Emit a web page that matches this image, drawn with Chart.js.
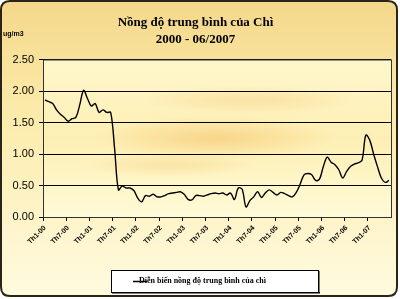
<!DOCTYPE html>
<html lang="vi">
<head>
  <meta charset="UTF-8">
  <title>Nồng độ trung bình của Chì</title>
  <script src="https://cdn.jsdelivr.net/npm/chart.js"></script>
  <style>
    html, body { margin: 0; padding: 0; background: #fff; }
    #khung { width: 400px; height: 299px; }
  </style>
</head>
<body>
  <div id="khung"><canvas id="grafico" width="400" height="299"></canvas></div>

  <script>
    // dữ liệu: trung bình tháng, 01/2000 - 06/2007 (ug/m3)
    const nam = ["00", "01", "02", "03", "04", "05", "06", "07"];
    const thang = [];
    nam.forEach(n => {
      for (let t = 1; t <= 12; t++) {
        if (n === "07" && t > 6) break;
        thang.push("Th" + t + "-" + n);
      }
    });

    const nongDoChi = [
      1.86, 1.83, 1.80, 1.70, 1.63, 1.58, 1.52, 1.56, 1.58, 1.78,
      2.01, 1.88, 1.76, 1.80, 1.66, 1.70, 1.66, 1.66, 1.10, 0.43,
      0.49, 0.46, 0.46, 0.42, 0.30, 0.24, 0.34, 0.33, 0.36, 0.32,
      0.32, 0.34, 0.37, 0.38, 0.39, 0.40, 0.36, 0.28, 0.27, 0.34,
      0.34, 0.33, 0.35, 0.37, 0.38, 0.37, 0.38, 0.35, 0.38, 0.28,
      0.46, 0.44, 0.16, 0.26, 0.32, 0.40, 0.31, 0.38, 0.43, 0.39,
      0.35, 0.39, 0.37, 0.34, 0.32, 0.39, 0.52, 0.67, 0.69, 0.67,
      0.58, 0.60, 0.80, 0.95, 0.87, 0.83, 0.75, 0.62, 0.72, 0.80,
      0.84, 0.86, 0.90, 1.30, 1.22, 1.00, 0.80, 0.62, 0.55, 0.58
    ];

    const tieuDe = ["Nồng độ trung bình của Chì", "2000 - 06/2007"];
    const donVi = "ug/m3";
    const nhanChuGiai = "Diễn biến nồng độ trung bình của chì";

    function khungTron(ctx, x, y, w, h, r) {
      ctx.beginPath();
      ctx.moveTo(x + r, y);
      ctx.lineTo(x + w - r, y);
      ctx.quadraticCurveTo(x + w, y, x + w, y + r);
      ctx.lineTo(x + w, y + h - r);
      ctx.quadraticCurveTo(x + w, y + h, x + w - r, y + h);
      ctx.lineTo(x + r, y + h);
      ctx.quadraticCurveTo(x, y + h, x, y + h - r);
      ctx.lineTo(x, y + r);
      ctx.quadraticCurveTo(x, y, x + r, y);
      ctx.closePath();
    }

    function vet(ctx, a, cx, cy, rx, ry, mau) {
      ctx.save();
      ctx.beginPath();
      ctx.rect(a.left, a.top, a.right - a.left, a.bottom - a.top);
      ctx.clip();
      ctx.translate(cx, cy);
      ctx.scale(rx / ry, 1);
      const r = ctx.createRadialGradient(0, 0, 2, 0, 0, ry);
      r.addColorStop(0, mau);
      r.addColorStop(1, "rgba(247,205,120,0)");
      ctx.fillStyle = r;
      ctx.fillRect(-ry, -ry, 2 * ry, 2 * ry);
      ctx.restore();
    }

    const nenVaKhung = {
      id: "nenVaKhung",
      beforeDraw(chart) {
        const ctx = chart.ctx;
        const a = chart.chartArea;
        ctx.save();
        // nền ngoài
        const g = ctx.createLinearGradient(0, 0, 0, 299);
        g.addColorStop(0, "#f4d78a");
        g.addColorStop(0.35, "#fbeaa8");
        g.addColorStop(1, "#fffbe0");
        khungTron(ctx, 1, 1, 396, 295, 9);
        ctx.fillStyle = g;
        ctx.fill();
        // vùng vẽ
        const g2 = ctx.createLinearGradient(0, a.top, 0, a.bottom);
        g2.addColorStop(0, "#fff7cc");
        g2.addColorStop(0.5, "#fdefb4");
        g2.addColorStop(1, "#fffbd8");
        ctx.fillStyle = g2;
        ctx.fillRect(a.left, a.top, a.right - a.left, a.bottom - a.top);
        vet(ctx, a, 215, 138, 120, 22, "rgba(246,206,125,0.7)");
        vet(ctx, a, 250, 100, 110, 14, "rgba(246,210,135,0.45)");
        vet(ctx, a, 170, 165, 90, 12, "rgba(246,210,135,0.4)");
        // đơn vị
        ctx.fillStyle = "#000";
        ctx.font = "bold 7px Arial";
        ctx.textBaseline = "middle";
        ctx.fillText(donVi, 3, 34);
        ctx.restore();
      },
      afterDraw(chart) {
        const ctx = chart.ctx;
        const a = chart.chartArea;
        ctx.save();
        ctx.strokeStyle = "#333";
        ctx.lineWidth = 1;
        ctx.strokeRect(a.left + 0.5, a.top + 0.5, a.right - a.left, a.bottom - a.top);
        // khung ngoài
        khungTron(ctx, 1, 1, 396, 295, 9);
        ctx.lineWidth = 2;
        ctx.strokeStyle = "#2a2418";
        ctx.stroke();
        // chú giải
        ctx.fillStyle = "#fff";
        ctx.fillRect(111, 270, 207, 22);
        ctx.lineWidth = 1;
        ctx.strokeStyle = "#000";
        ctx.strokeRect(111.5, 270.5, 207, 22);
        ctx.fillStyle = "#000";
        ctx.fillRect(112, 292, 208, 1.5);
        ctx.fillRect(318, 271, 1.5, 22);
        ctx.beginPath();
        ctx.moveTo(133, 281.5);
        ctx.lineTo(147, 281.5);
        ctx.lineWidth = 1.5;
        ctx.stroke();
        ctx.font = "bold 8px 'Liberation Serif'";
        ctx.textBaseline = "middle";
        ctx.fillText(chart.data.datasets[0].label, 139, 281);
        ctx.restore();
      }
    };

    new Chart(document.getElementById("grafico"), {
      type: "line",
      data: {
        labels: thang,
        datasets: [{
          label: nhanChuGiai,
          data: nongDoChi,
          borderColor: "#000",
          borderWidth: 1.4,
          pointRadius: 0,
          tension: 0.35,
          fill: false
        }]
      },
      options: {
        responsive: false,
        animation: false,
        layout: { padding: { left: 0, right: 9, top: 0, bottom: 0 } },
        plugins: {
          legend: { display: false },
          tooltip: { enabled: false },
          title: {
            display: true,
            text: tieuDe,
            color: "#000",
            font: { family: "'Liberation Serif'", size: 13, weight: "bold", lineHeight: 1.25 },
            padding: { top: 15, bottom: 12 }
          }
        },
        scales: {
          x: {
            offset: true,
            afterFit: s => { s.height = 82; },
            grid: {
              offset: true,
              drawOnChartArea: false,
              drawTicks: true,
              tickLength: 4,
              tickColor: c => (c.index % 6 === 0 ? "#000" : "rgba(0,0,0,0)")
            },
            border: { display: false },
            ticks: {
              autoSkip: false,
              maxRotation: 45,
              minRotation: 45,
              padding: 3,
              color: "#000",
              font: { family: "Arial", size: 7, weight: "bold" },
              callback: function (v, i) { return i % 6 === 0 ? this.getLabelForValue(v) : ""; }
            }
          },
          y: {
            min: 0,
            max: 2.5,
            afterFit: s => { s.width = 43; },
            grid: { color: "#000", lineWidth: 1, tickLength: 4, tickColor: "#000" },
            border: { display: false },
            ticks: {
              stepSize: 0.5,
              padding: 5,
              color: "#000",
              font: { family: "Arial", size: 11 },
              callback: v => Number(v).toFixed(2)
            }
          }
        }
      },
      plugins: [nenVaKhung]
    });
  </script>
</body>
</html>
